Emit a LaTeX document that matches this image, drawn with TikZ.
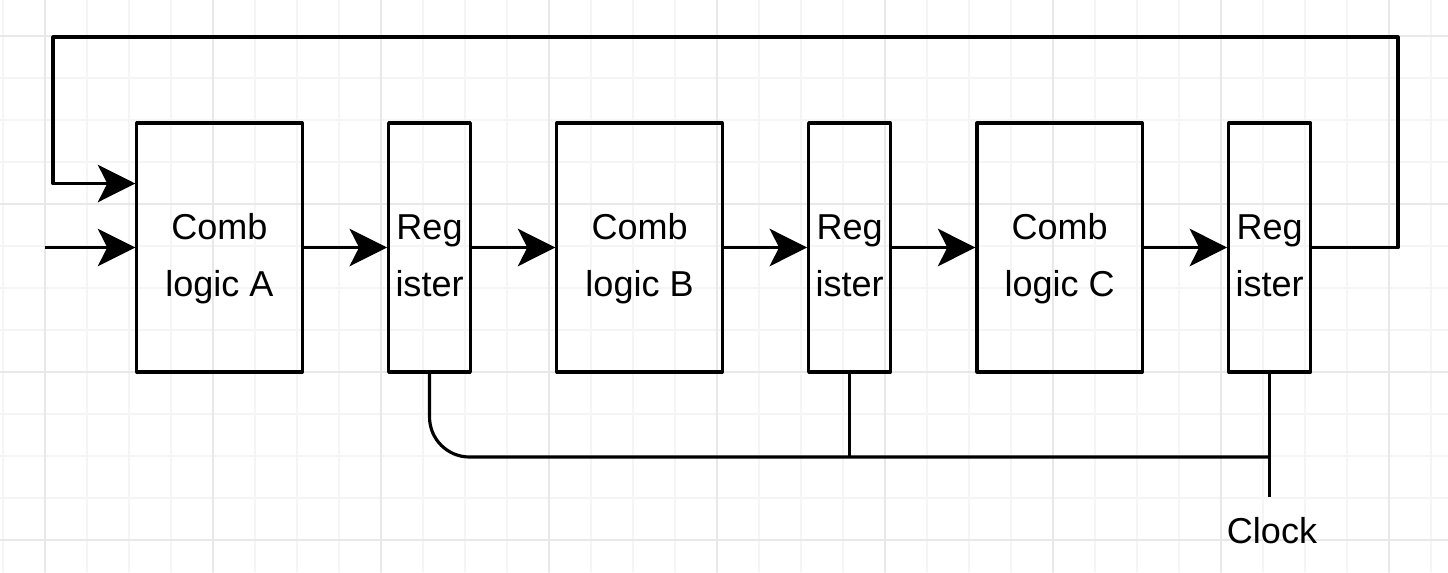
\documentclass[tikz,border=0pt]{standalone}
\usepackage{fontspec}
\setmainfont{Liberation Sans}
\usetikzlibrary{arrows.meta,positioning}
\definecolor{gridminor}{HTML}{F5F5F5}
\definecolor{gridmajor}{HTML}{E8E8E8}
\begin{document}
\begin{tikzpicture}[x=0.02cm,y=-0.02cm,
	line join=round,line cap=round,
	font=\fontsize{20.5pt}{33pt}\selectfont,
	block/.style={draw,line width=1.8pt,minimum height=4.98cm,
		inner sep=0pt,align=center,text height=1.98cm,text depth=0cm},
	comb/.style={block,minimum width=3.306cm},
	reg/.style={block,minimum width=1.636cm},
	wire/.style={line width=1.8pt,line cap=butt},
	flow/.style={wire,-{Stealth[length=0.75cm,width=0.75cm,inset=0.19cm]}},
	node distance=1.667cm]
	\def\W{1448}
	\def\H{572}
	\useasboundingbox (0,0) rectangle (\W,\H);
	\fill[white] (0,0) rectangle (\W,\H);
	% background grid
	\foreach \i in {0,...,34}
	\draw[gridminor,line width=0.7pt] ({3+42*\i},0) -- ({3+42*\i},\H);
	\foreach \j in {0,...,14}
	\draw[gridminor,line width=0.7pt] (0,{-6+42*\j}) -- (\W,{-6+42*\j});
	\foreach \i in {0,...,8}
	\draw[gridmajor,line width=0.8pt] ({45+168*\i},0) -- ({45+168*\i},\H);
	\foreach \j in {0,...,3}
	\draw[gridmajor,line width=0.8pt] (0,{36+168*\j}) -- (\W,{36+168*\j});
	% pipeline
	\node[comb] (combA) at (219.5,247.5) {Comb\\logic A};
	\node[reg,right=of combA] (regA) {Reg\\ister};
	\node[comb,right=of regA] (combB) {Comb\\logic B};
	\node[reg,right=of combB] (regB) {Reg\\ister};
	\node[comb,right=of regB] (combC) {Comb\\logic C};
	\node[reg,right=of combC] (regC) {Reg\\ister};
	\draw[flow] (combA) -- (regA);
	\draw[flow] (regA) -- (combB);
	\draw[flow] (combB) -- (regB);
	\draw[flow] (regB) -- (combC);
	\draw[flow] (combC) -- (regC);
	% input and feedback
	\coordinate (in) at (45,247.5);
	\coordinate (fbR) at (1398,37);
	\coordinate (fbL) at (53,37);
	\draw[flow] (in) -- (combA.west);
	\draw[flow] (regC.east) -| (fbR) -- (fbL) |- ([yshift=1.28cm]combA.west);
	% clock
	\coordinate (clkjoin) at (regC.south |- 0,457);
	\coordinate (clkend) at (regC.south |- 0,497);
	\node[anchor=base] (clock) at (1272,543) {Clock};
	\draw[wire,rounded corners=0.8cm] (regA.south) |- (clkjoin);
	\draw[wire] (regB.south) -- (regB.south |- clkjoin);
	\draw[wire] (regC.south) -- (clkend);
\end{tikzpicture}
\end{document}
